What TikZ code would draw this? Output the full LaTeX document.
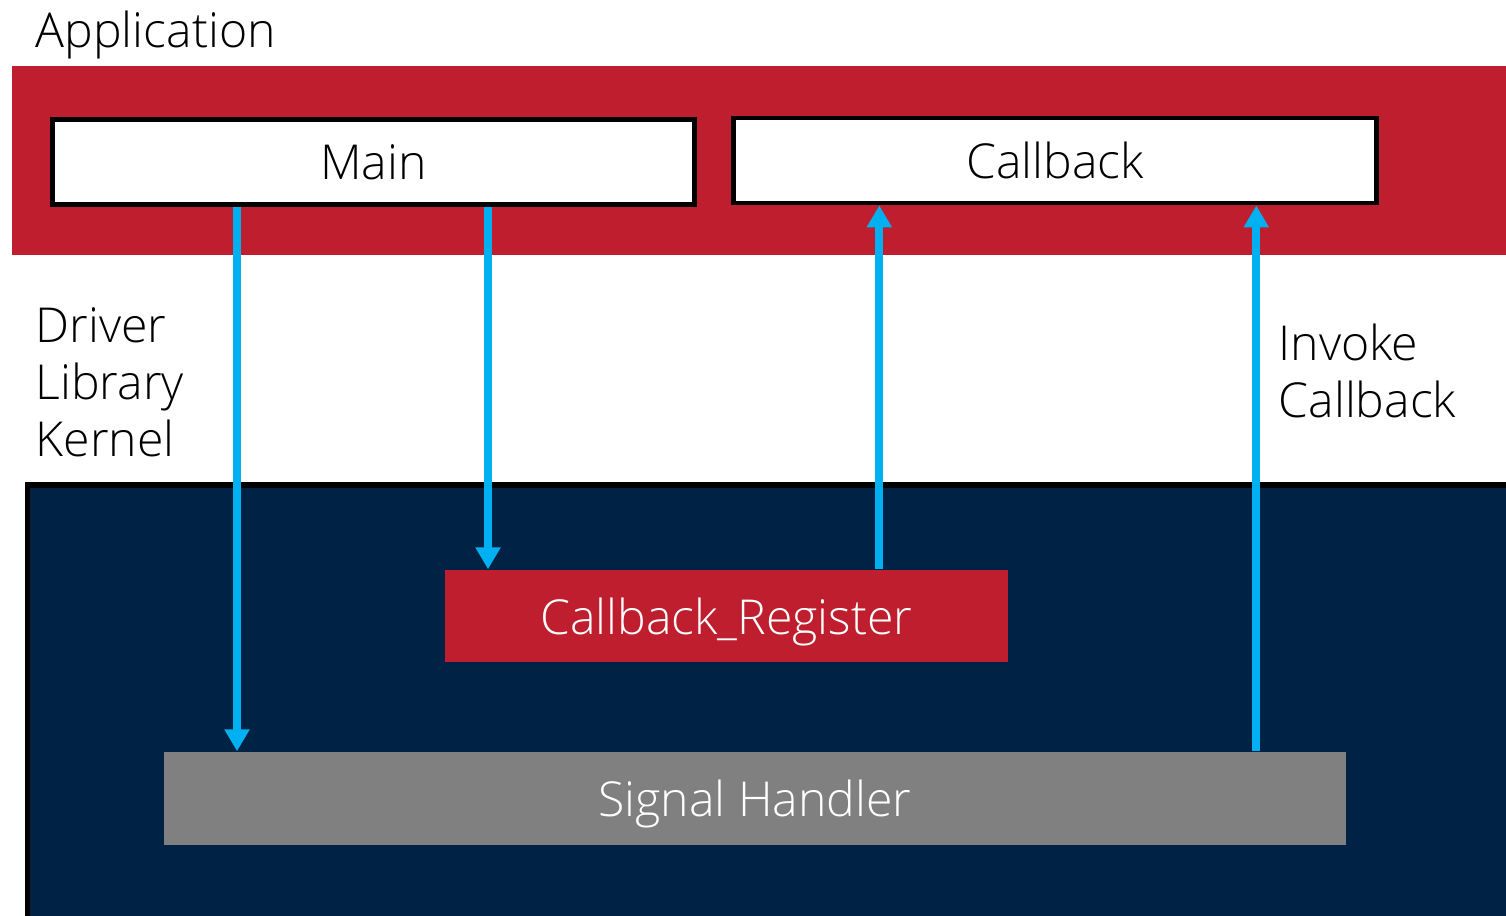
\documentclass[tikz,border=0pt]{standalone}
\usepackage{fontspec}
\setmainfont{Open Sans Light}
\usetikzlibrary{arrows.meta}

\definecolor{appred}{HTML}{BE1E2D}
\definecolor{kernelblue}{HTML}{002244}
\definecolor{flowblue}{HTML}{00B0F0}
\definecolor{handlergray}{HTML}{808080}

\begin{document}
\begin{tikzpicture}[
	font=\fontsize{13.7}{16.2}\selectfont,
	box/.style={draw=black, line width=1.4pt, fill=white, minimum height=0.85cm, inner sep=0pt},
	block/.style={text=white, inner sep=0pt, text depth=0pt},
	label/.style={inner sep=0pt, align=left},
	flow/.style={flowblue, line width=2.3pt, -{Triangle[width=0.24cm, length=0.22cm]}}
	]
	\useasboundingbox (0,0) rectangle (15.06,-9.16);
	\clip (0,0) rectangle (15.06,-9.16);
	
	% layers
	\fill[appred] (0.12,-0.66) rectangle (15.2,-2.55);
	\draw[black, line width=1.5pt, fill=kernelblue] (0.275,-4.85) rectangle (15.4,-9.4);
	
	\node[label, anchor=base west] (app) at (0.35,-0.48) {Application};
	\node[label, anchor=west] (drv) at (0.35,-3.82) {Driver\\Library\\Kernel};
	\node[label, anchor=west] (inv) at (12.78,-3.71) {Invoke\\Callback};
	
	\node[box, minimum width=6.42cm] (main) at (3.735,-1.62) {Main};
	\node[box, minimum width=6.43cm] (callback) at (10.55,-1.605) {Callback};
	
	\node[block, fill=appred, minimum width=5.63cm, minimum height=0.92cm] (register) at (7.265,-6.16) {Callback\_Register};
	\node[block, fill=handlergray, minimum width=11.82cm, minimum height=0.93cm] (handler) at (7.55,-7.985) {Signal Handler};
	
	\draw[flow] ([xshift=1.87cm]main.south west) -- ([xshift=1.87cm]main.south west |- handler.north);
	\draw[flow] ([xshift=4.38cm]main.south west) -- ([xshift=4.38cm]main.south west |- register.north);
	\draw[flow] ([xshift=4.35cm]register.north west) -- ([xshift=4.35cm]register.north west |- callback.south);
	\draw[flow] ([xshift=10.93cm]handler.north west) -- ([xshift=10.93cm]handler.north west |- callback.south);
\end{tikzpicture}
\end{document}
